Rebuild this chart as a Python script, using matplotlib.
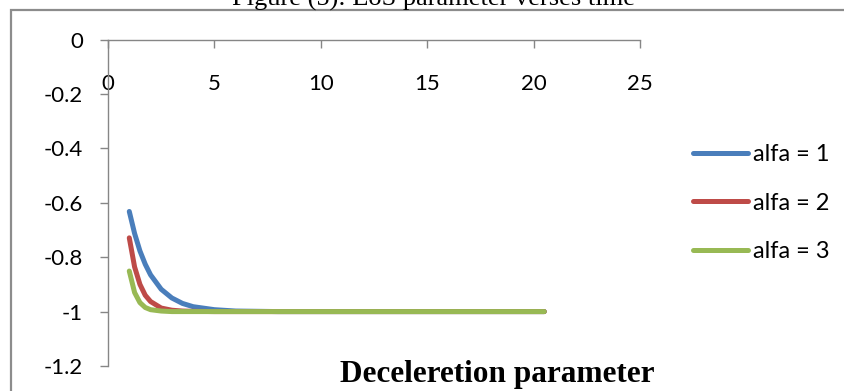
import matplotlib
matplotlib.use("Agg")
import matplotlib.pyplot as plt
from matplotlib.patches import Rectangle

# time values and EoS parameter for the three alfa cases
t = [1, 1.25, 1.5, 1.75, 2, 2.5, 3, 3.5, 4, 5, 6, 7, 8, 10, 12, 14, 16, 18, 20.5]
w_alfa1 = [-0.632, -0.713, -0.777, -0.826, -0.865, -0.918, -0.950, -0.970, -0.982,
           -0.993, -0.998, -0.999, -1.0, -1.0, -1.0, -1.0, -1.0, -1.0, -1.0]
w_alfa2 = [-0.729, -0.836, -0.900, -0.940, -0.963, -0.987, -0.995, -0.998, -0.999,
           -1.0, -1.0, -1.0, -1.0, -1.0, -1.0, -1.0, -1.0, -1.0, -1.0]
w_alfa3 = [-0.851, -0.930, -0.967, -0.985, -0.993, -0.998, -1.0, -1.0, -1.0,
           -1.0, -1.0, -1.0, -1.0, -1.0, -1.0, -1.0, -1.0, -1.0, -1.0]
labels = ["alfa = 1", "alfa = 2", "alfa = 3"]
colors = ["#4A7EBB", "#BE4B48", "#98B954"]

xticks = [0, 5, 10, 15, 20, 25]
yticks = [0, -0.2, -0.4, -0.6, -0.8, -1, -1.2]

plt.rcParams["font.family"] = ["Lato", "DejaVu Sans"]
axis_gray = "#868686"

fig = plt.figure(figsize=(8.45, 3.91), dpi=100)
ax = fig.add_axes([108 / 845, 1 - 366 / 391, 532 / 845, (366 - 39.5) / 391])

for w, lab, c in zip([w_alfa1, w_alfa2, w_alfa3], labels, colors):
    ax.plot(t, w, color=c, lw=3.6, label=lab, solid_capstyle="round")

ax.set_xlim(0, 25)
ax.set_ylim(-1.2, 0)
ax.set_xticks(xticks)
ax.set_yticks(yticks)
ax.set_yticklabels(["0", "-0.2", "-0.4", "-0.6", "-0.8", "-1", "-1.2"])

for s in ["bottom", "right"]:
    ax.spines[s].set_visible(False)
for s in ["top", "left"]:
    ax.spines[s].set_color(axis_gray)
    ax.spines[s].set_linewidth(1.0)

ax.tick_params(axis="x", top=True, bottom=False, labeltop=True, labelbottom=False,
               direction="in", length=6, width=1.0, color=axis_gray,
               labelsize=16, pad=-39)
ax.tick_params(axis="y", direction="out", length=6, width=1.0, color=axis_gray,
               labelsize=16, pad=12)

fig.legend(loc="center left", bbox_to_anchor=(693 / 845, 1 - 203 / 391),
           frameon=False, fontsize=17, handlelength=2.33, handletextpad=0.22,
           labelspacing=1.17, borderpad=0, borderaxespad=0)

fig.text(434 / 845, 1 - 6 / 391, "Figure (5): EoS parameter verses time",
         family="Liberation Serif", fontsize=19, ha="center", va="baseline")
fig.text(497 / 845, 1 - 382 / 391, "Deceleretion parameter",
         family="Liberation Serif", fontweight="bold", fontsize=22.5,
         ha="center", va="baseline")

# chart frame, running off the right and bottom edges
fig.add_artist(Rectangle((11 / 845, -0.05), 1.0, 1 - 10 / 391 + 0.05,
                         transform=fig.transFigure, fill=False,
                         ec="#8C8C8C", lw=1.6))

fig.savefig("out.png", dpi=100)
